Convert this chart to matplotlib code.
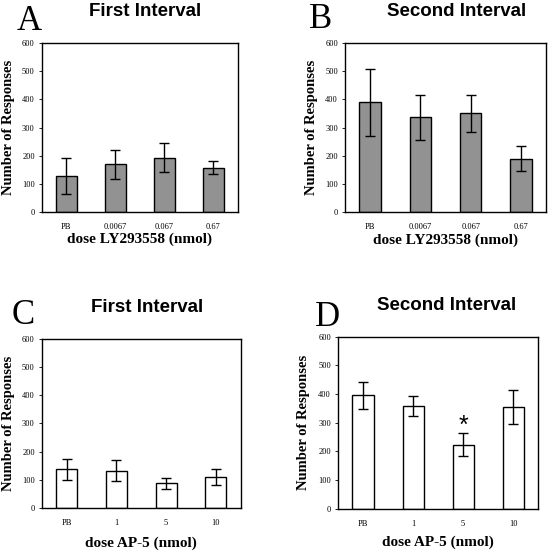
import matplotlib.pyplot as plt
import numpy as np

# panel A / B: LY293558
ly_doses = ['PB', '0.0067', '0.067', '0.67']
a_means = [128, 170, 193, 158]
a_errs = [64, 52, 52, 24]
b_means = [389, 336, 351, 189]
b_errs = [119, 80, 65, 44]

# panel C / D: AP-5
ap_doses = ['PB', '1', '5', '10']
c_means = [137, 133, 87, 109]
c_errs = [36, 36, 19, 29]
d_means = [395, 358, 223, 355]
d_errs = [46, 34, 40, 60]

serif = 'Liberation Serif'
sans = 'Liberation Sans'

fig = plt.figure(figsize=(5.5, 5.51), dpi=100)


def panel(rect, labels, means, errs, color, title, letter, xlabel, letter_xy, title_xy, xlabel_y, ylab_x):
    ax = fig.add_axes(rect)
    x = np.arange(len(labels))
    ax.bar(x, means, width=0.42, color=color, edgecolor='black', linewidth=1.0,
           yerr=errs, capsize=3.5, error_kw=dict(elinewidth=1.0, capthick=1.0, ecolor='black'))
    ax.set_xlim(-0.5, 3.5)
    ax.set_ylim(0, 600)
    ax.set_yticks(range(0, 601, 100))
    ax.set_xticks(x)
    ax.set_xticklabels(labels, fontsize=6, family=serif)
    for t in ax.get_yticklabels():
        t.set_fontsize(6)
        t.set_family(serif)
    ax.tick_params(axis='x', length=0, pad=8)
    ax.tick_params(axis='y', length=2, width=0.6, pad=3)
    ax.set_ylabel('Number of Responses', fontsize=10.5, fontweight='bold', family=serif, va='center')
    # label position in axes fraction
    ax.yaxis.set_label_coords((ylab_x - rect[0] * 550) / (rect[2] * 550), 0.5)
    for s in ax.spines.values():
        s.set_linewidth(1.0)
    fig.text(letter_xy[0] / 550, 1 - letter_xy[1] / 551, letter, fontsize=25, family=serif,
             ha='center', va='center')
    fig.text(title_xy[0] / 550, 1 - title_xy[1] / 551, title, fontsize=13.5, family=sans,
             fontweight='bold', ha='center', va='center')
    left = rect[0] * 550
    right = (rect[0] + rect[2]) * 550
    fig.text((left + right) / 2 / 550, 1 - xlabel_y / 551, xlabel, fontsize=11, family=serif,
             fontweight='bold', ha='center', va='center')
    return ax


panel([0.0758, 0.615, 0.357, 0.307], ly_doses, a_means, a_errs, '#929292',
      'First Interval', 'A', 'dose LY293558 (nmol)', (29, 22), (145, 12), 239, 9)
panel([0.627, 0.615, 0.366, 0.307], ly_doses, b_means, b_errs, '#929292',
      'Second Interval', 'B', 'dose LY293558 (nmol)', (321, 20), (457, 12), 240, 311)
panel([0.0758, 0.078, 0.362, 0.307], ap_doses, c_means, c_errs, 'white',
      'First Interval', 'C', 'dose AP-5 (nmol)', (23, 315), (147, 307), 543, 9)
ax = panel([0.6145, 0.077, 0.364, 0.312], ap_doses, d_means, d_errs, 'white',
           'Second Interval', 'D', 'dose AP-5 (nmol)', (327, 318), (447, 306), 542, 303)
# significance star (glyph sits high in its box, so baseline is below the cap)
ax.text(2, d_means[2] + d_errs[2] - 17, '*', fontsize=18, family=sans, ha='center', va='bottom')

plt.savefig('out.png', dpi=100)
